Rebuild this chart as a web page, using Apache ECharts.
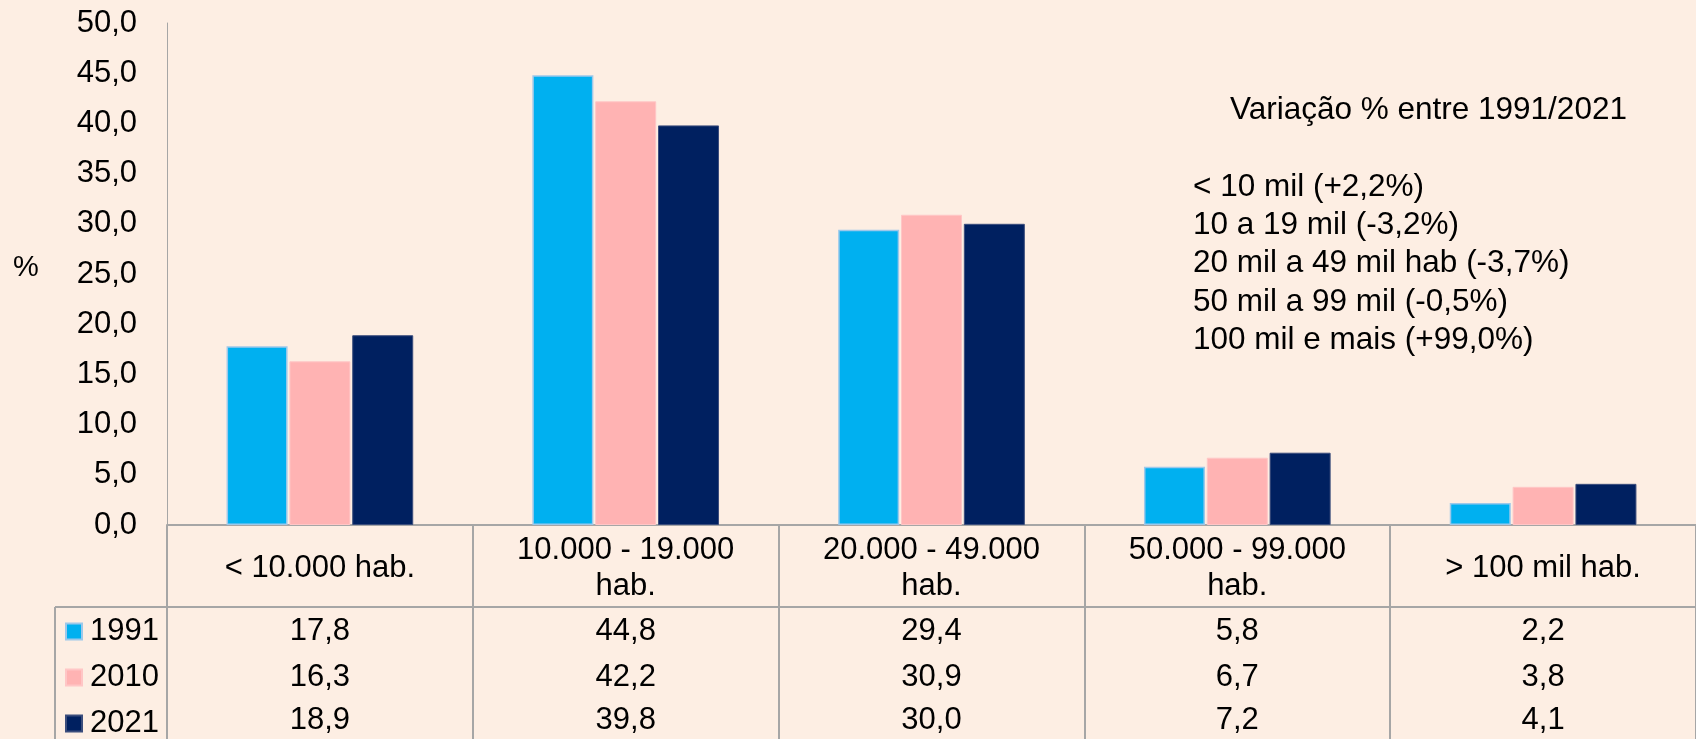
<!DOCTYPE html>
<html>
<head>
<meta charset="utf-8">
<script src="https://cdn.jsdelivr.net/npm/echarts@6/dist/echarts.min.js"></script>
<style>
    html, body {margin: 0; padding: 0; background: #fdeee3;}
    #main {width: 1696px; height: 739px;}
</style>
</head>
<body>
<div id="main"></div>
<script>
let categorias = ['< 10.000 hab.', '10.000 - 19.000\nhab.', '20.000 - 49.000\nhab.', '50.000 - 99.000\nhab.', '> 100 mil hab.'];
let anos = ['1991', '2010', '2021'];
let v1991 = [17.8, 44.8, 29.4, 5.8, 2.2];
let v2010 = [16.3, 42.2, 30.9, 6.7, 3.8];
let v2021 = [18.9, 39.8, 30.0, 7.2, 4.1];
let yTicks = {min: 0, max: 50, interval: 5};
let variacaoTitulo = 'Variação % entre 1991/2021';
let variacao = [
    '< 10 mil (+2,2%)',
    '10 a 19 mil (-3,2%)',
    '20 mil a 49 mil hab (-3,7%)',
    '50 mil a 99 mil (-0,5%)',
    '100 mil e mais (+99,0%)'
];

let fonte = 'Liberation Sans, Arial, sans-serif';
let cinza = '#a6a6a6';
let virgula = v => v.toFixed(1).replace('.', ',');

// linhas da tabela de dados (abaixo do eixo x)
let linhaTabela = (dados, offset) => ({
    type: 'category',
    gridIndex: 0,
    position: 'bottom',
    offset: offset,
    data: dados.map(virgula),
    axisLine: {show: false},
    axisTick: {show: false},
    axisLabel: {
        interval: 0, margin: 0, verticalAlign: 'middle',
        fontSize: 31, fontFamily: fonte, color: '#000'
    }
});

let chart = echarts.init(document.getElementById('main'));
chart.setOption({
    backgroundColor: '#fdeee3',
    animation: false,
    grid: {left: 167, top: 23, width: 1542, bottom: 214},
    legend: {
        orient: 'vertical',
        left: 65, top: 616, height: 160,
        padding: 0,
        itemWidth: 16, itemHeight: 16, itemGap: 15,
        icon: 'rect',
        data: anos,
        textStyle: {fontSize: 31, lineHeight: 31, fontFamily: fonte, color: '#000', padding: [0, 0, 0, 3]}
    },
    xAxis: [
        {
            type: 'category',
            data: categorias,
            axisLine: {lineStyle: {color: cinza, width: 2}},
            axisTick: {show: true, interval: 0, length: 220, lineStyle: {color: cinza, width: 2}},
            axisLabel: {
                interval: 0, margin: 43, verticalAlign: 'middle',
                fontSize: 31, lineHeight: 36, fontFamily: fonte, color: '#000'
            }
        },
        linhaTabela(v1991, 106),
        linhaTabela(v2010, 152),
        linhaTabela(v2021, 195)
    ],
    yAxis: {
        type: 'value',
        min: yTicks.min, max: yTicks.max, interval: yTicks.interval,
        axisLine: {show: true, lineStyle: {color: cinza, width: 1}},
        axisTick: {show: false},
        splitLine: {show: false},
        axisLabel: {margin: 30, fontSize: 31, fontFamily: fonte, color: '#000', formatter: virgula}
    },
    series: [
        {name: anos[0], type: 'bar', data: v1991, barWidth: 61, barGap: '3%',
            itemStyle: {color: '#00b0f0', borderColor: '#9dc8ea', borderWidth: 1.5}},
        {name: anos[1], type: 'bar', data: v2010, barWidth: 61, barGap: '3%',
            itemStyle: {color: '#ffb3b3', borderColor: '#ffc6c6', borderWidth: 1}},
        {name: anos[2], type: 'bar', data: v2021, barWidth: 61, barGap: '3%',
            itemStyle: {color: '#002060', borderColor: '#3b4d7c', borderWidth: 1}}
    ],
    graphic: [
        {type: 'text', x: 26, y: 268, style: {text: '%', font: '29px ' + fonte, fill: '#000', align: 'center', verticalAlign: 'middle'}},
        {type: 'text', x: 1230, y: 110, style: {text: variacaoTitulo, font: '31.5px ' + fonte, fill: '#000', verticalAlign: 'middle'}},
        {type: 'text', left: 1193, top: 168, style: {text: variacao.join('\n'), font: '31.5px ' + fonte, lineHeight: 38.3, fill: '#000'}},
        {type: 'line', shape: {x1: 55, y1: 607, x2: 1696, y2: 607}, style: {stroke: cinza, lineWidth: 2}},
        {type: 'line', shape: {x1: 55, y1: 607, x2: 55, y2: 739}, style: {stroke: cinza, lineWidth: 2}}
    ]
});
</script>
</body>
</html>
